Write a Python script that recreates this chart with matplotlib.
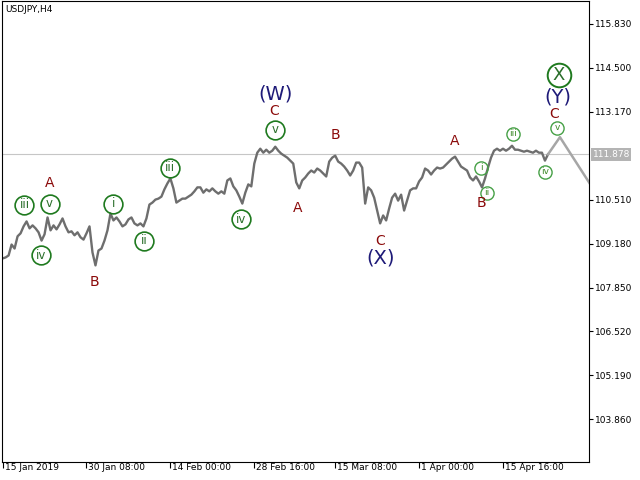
import numpy as np
import matplotlib
matplotlib.use("Agg")
import matplotlib.pyplot as plt
import matplotlib.transforms as mtransforms

# ── USDJPY H4 closes, one value per bar slot ──────────────────────────────────
closes = [
    108.73, 108.76, 108.82, 109.15, 109.03, 109.40, 109.49, 109.70, 109.85, 109.64,
    109.73, 109.64, 109.52, 109.27, 109.46, 109.97, 109.58, 109.73, 109.61, 109.76,
    109.94, 109.70, 109.52, 109.55, 109.43, 109.52, 109.37, 109.30, 109.49, 109.70,
    108.91, 108.52, 108.97, 109.03, 109.27, 109.58, 110.09, 109.88, 109.97, 109.85,
    109.70, 109.76, 109.91, 109.97, 109.79, 109.73, 109.79, 109.70, 109.94, 110.36,
    110.42, 110.51, 110.54, 110.60, 110.82, 111.00, 111.15, 110.85, 110.42, 110.48,
    110.54, 110.54, 110.60, 110.66, 110.76, 110.88, 110.88, 110.72, 110.82, 110.76,
    110.85, 110.76, 110.69, 110.76, 110.69, 111.09, 111.15, 110.91, 110.79, 110.60,
    110.39, 110.72, 110.97, 110.91, 111.60, 111.93, 112.05, 111.93, 112.02, 111.93,
    111.99, 112.11, 111.99, 111.90, 111.84, 111.78, 111.69, 111.60, 111.03, 110.85,
    111.09, 111.18, 111.30, 111.39, 111.33, 111.45, 111.39, 111.30, 111.21, 111.66,
    111.78, 111.84, 111.66, 111.60, 111.51, 111.39, 111.24, 111.39, 111.63, 111.63,
    111.48, 110.39, 110.88, 110.79, 110.57, 110.18, 109.79, 110.03, 109.88, 110.24,
    110.57, 110.69, 110.48, 110.66, 110.18, 110.48, 110.79, 110.85, 110.85, 111.06,
    111.18, 111.45, 111.39, 111.27, 111.39, 111.48, 111.45, 111.48, 111.57, 111.66,
    111.75, 111.81, 111.66, 111.51, 111.45, 111.39, 111.18, 111.09, 111.21, 111.06,
    110.88, 111.15, 111.48, 111.78, 111.99, 112.05, 111.99, 112.05, 111.99, 112.05,
    112.14, 112.02, 112.02, 111.99, 111.96, 111.99, 111.96, 111.93, 111.99, 111.93,
    111.93, 111.69, 111.878,
]
last_price = 111.878

# projected path (gray zigzag on the right)
proj_bar = [182, 186, 197]
proj_price = [111.878, 112.40, 110.85]

tick_bars = [0, 28, 56, 84, 111, 139, 167]
tick_dates = ["15 Jan 2019", "30 Jan 08:00", "14 Feb 00:00", "28 Feb 16:00",
              "15 Mar 08:00", "1 Apr 00:00", "15 Apr 16:00"]
price_ticks = [115.830, 114.500, 113.170, 110.510, 109.180,
               107.850, 106.520, 105.190, 103.860]

# ── wave labels ──────────────────────────────────────────────────────────────
minor_txt = ["iii", "v", "iv", "i", "ii", "iii", "iv", "v"]
minor_bar = [7.3, 15.7, 12.7, 37.0, 47.3, 56.0, 79.7, 91.0]
minor_px  = [110.36, 110.39, 108.82, 110.39, 109.27, 111.48, 109.91, 112.63]

small_txt = ["i", "ii", "iii", "iv", "v"]
small_bar = [159.7, 161.7, 170.3, 181.0, 185.0]
small_px  = [111.48, 110.72, 112.51, 111.36, 112.69]

abc_txt = ["A", "B", "C", "A", "B", "C", "A", "B", "C"]
abc_bar = [15.7, 30.7, 90.7, 98.3, 111.0, 126.0, 151.0, 159.7, 184.0]
abc_px  = [111.00, 108.03, 113.20, 110.27, 112.48, 109.27, 112.27, 110.42, 113.11]

deg_txt = ["(W)", "(X)", "(Y)"]
deg_bar = [91.0, 126.0, 185.3]
deg_px  = [113.72, 108.73, 113.62]

top_txt, top_bar, top_px = "X", 185.7, 114.29

# ── style ─────────────────────────────────────────────────────────────────────
BAR_C = "#6e6e6e"; PROJ_C = "#a6a6a6"; LAST_C = "#c6c6c6"
GREEN = "#1f7a1f"; GREEN_T = "#2a6e2a"; LGREEN = "#46a046"
RED = "#8b0a0a"; NAVY = "#1e1a78"

fig = plt.figure(figsize=(6.4, 4.8), dpi=100)
ax = fig.add_axes([2/640, 18/480, 587/640, 461/480])

x = np.arange(len(closes))
ax.axhline(last_price, color=LAST_C, lw=0.8, zorder=0)
ax.plot(x, closes, color=BAR_C, lw=1.7, zorder=2)
ax.plot(proj_bar, proj_price, color=PROJ_C, lw=1.8, zorder=2)

ax.set_xlim(-0.2, 195.7)
ax.set_ylim(102.57, 116.52)

for sp in ax.spines.values():
    sp.set_linewidth(0.8); sp.set_color("black")

# y axis on the right
ax.yaxis.tick_right()
ax.set_yticks(price_ticks)
ax.set_yticklabels([f"{v:.3f}" for v in price_ticks])
ax.tick_params(axis="y", length=3, width=0.8, pad=1, labelsize=6.5)

# x axis: labels sit right of the tick mark
ax.set_xticks(tick_bars)
ax.set_xticklabels(tick_dates)
ax.tick_params(axis="x", length=4, width=0.8, pad=-3, labelsize=6.5)
off = mtransforms.ScaledTranslation(2/100, 0, fig.dpi_scale_trans)
for lab in ax.get_xticklabels():
    lab.set_ha("left")
    lab.set_transform(lab.get_transform() + off)

# current price tag
ax.annotate(f"{last_price:.3f}", xy=(1.0, last_price),
            xycoords=("axes fraction", "data"), xytext=(2.5, 0),
            textcoords="offset points", ha="left", va="center",
            fontsize=6.5, color="white", annotation_clip=False,
            bbox=dict(fc="#b4b4b4", ec="none", pad=1.2))

fig.text(5/640, 1 - 9/480, "USDJPY,H4", fontsize=6.5, va="center")

# labels
ax.plot(minor_bar, minor_px, "o", ms=13.5, mfc="none", mec=GREEN, mew=1.2, zorder=4)
for t, b, p in zip(minor_txt, minor_bar, minor_px):
    ax.text(b, p, t, ha="center", va="center", fontsize=8.5, color=GREEN_T, zorder=5)

ax.plot(small_bar, small_px, "o", ms=9.5, mfc="none", mec=LGREEN, mew=1.0, zorder=4)
for t, b, p in zip(small_txt, small_bar, small_px):
    ax.text(b, p, t, ha="center", va="center", fontsize=6.5, color="#3f8a2a", zorder=5)

for t, b, p in zip(abc_txt, abc_bar, abc_px):
    ax.text(b, p, t, ha="center", va="center", fontsize=10, color=RED, zorder=5)

for t, b, p in zip(deg_txt, deg_bar, deg_px):
    ax.text(b, p, t, ha="center", va="center", fontsize=14, color=NAVY, zorder=5)

ax.plot([top_bar], [top_px], "o", ms=17, mfc="none", mec=GREEN, mew=1.4, zorder=4)
ax.text(top_bar, top_px, top_txt, ha="center", va="center", fontsize=13,
        color=GREEN_T, zorder=5)

fig.savefig("out.png", dpi=100)
